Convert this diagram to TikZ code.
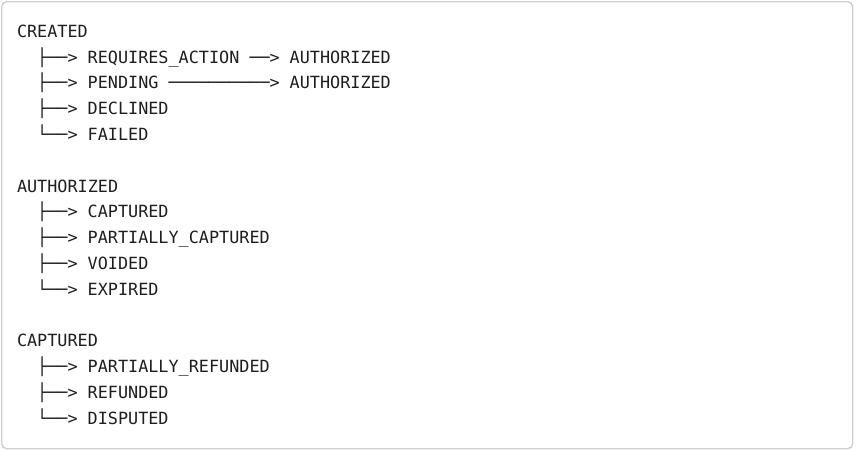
\documentclass[tikz,border=0pt]{standalone}
\usepackage{fontspec}
\newfontfamily\monof{DejaVu Sans Mono}
\definecolor{boxline}{HTML}{CFCFCF}
\definecolor{txt}{HTML}{1E1E1E}
\newcommand{\xo}{17}
\newcommand{\cw}{10.1}
\newcommand{\yo}{37.3}
\newcommand{\lh}{25.8}
\begin{document}
\begin{tikzpicture}[x=1pt,y=-1pt,
  t/.style={anchor=base west, inner sep=0pt, outer sep=0pt,
    font=\monof\fontsize{16.8}{20}\selectfont, text=txt},
  frame/.style={draw=boxline, line width=1.4pt, rounded corners=5pt, fill=white}]
\useasboundingbox (0,0) rectangle (856,450);
\node[frame, minimum width=851pt, minimum height=447pt, anchor=north west, inner sep=0pt] (box) at (1,1) {};
% CREATED
\node[t] (created) at ({\xo},{\yo}) {CREATED};
\node[t] (c1b) at ({\xo+2*\cw},{\yo+1*\lh}) {├──>};
\node[t] (c1) at ({\xo+7*\cw},{\yo+1*\lh}) {REQUIRES\_ACTION ──>};
\node[t] (c1a) at ({\xo+27*\cw},{\yo+1*\lh}) {AUTHORIZED};
\node[t] (c2b) at ({\xo+2*\cw},{\yo+2*\lh}) {├──>};
\node[t] (c2) at ({\xo+7*\cw},{\yo+2*\lh}) {PENDING};
\node[t] (c2l) at ({\xo+15*\cw},{\yo+2*\lh}) {──────────>};
\node[t] (c2a) at ({\xo+27*\cw},{\yo+2*\lh}) {AUTHORIZED};
\node[t] (c3b) at ({\xo+2*\cw},{\yo+3*\lh}) {├──>};
\node[t] (c3) at ({\xo+7*\cw},{\yo+3*\lh}) {DECLINED};
\node[t] (c4b) at ({\xo+2*\cw},{\yo+4*\lh}) {└──>};
\node[t] (c4) at ({\xo+7*\cw},{\yo+4*\lh}) {FAILED};
% AUTHORIZED
\node[t] (auth) at ({\xo},{\yo+6*\lh}) {AUTHORIZED};
\node[t] (a1b) at ({\xo+2*\cw},{\yo+7*\lh}) {├──>};
\node[t] (a1) at ({\xo+7*\cw},{\yo+7*\lh}) {CAPTURED};
\node[t] (a2b) at ({\xo+2*\cw},{\yo+8*\lh}) {├──>};
\node[t] (a2) at ({\xo+7*\cw},{\yo+8*\lh}) {PARTIALLY\_CAPTURED};
\node[t] (a3b) at ({\xo+2*\cw},{\yo+9*\lh}) {├──>};
\node[t] (a3) at ({\xo+7*\cw},{\yo+9*\lh}) {VOIDED};
\node[t] (a4b) at ({\xo+2*\cw},{\yo+10*\lh}) {└──>};
\node[t] (a4) at ({\xo+7*\cw},{\yo+10*\lh}) {EXPIRED};
% CAPTURED
\node[t] (capt) at ({\xo},{\yo+12*\lh}) {CAPTURED};
\node[t] (p1b) at ({\xo+2*\cw},{\yo+13*\lh}) {├──>};
\node[t] (p1) at ({\xo+7*\cw},{\yo+13*\lh}) {PARTIALLY\_REFUNDED};
\node[t] (p2b) at ({\xo+2*\cw},{\yo+14*\lh}) {├──>};
\node[t] (p2) at ({\xo+7*\cw},{\yo+14*\lh}) {REFUNDED};
\node[t] (p3b) at ({\xo+2*\cw},{\yo+15*\lh}) {└──>};
\node[t] (p3) at ({\xo+7*\cw},{\yo+15*\lh}) {DISPUTED};
\end{tikzpicture}
\end{document}
